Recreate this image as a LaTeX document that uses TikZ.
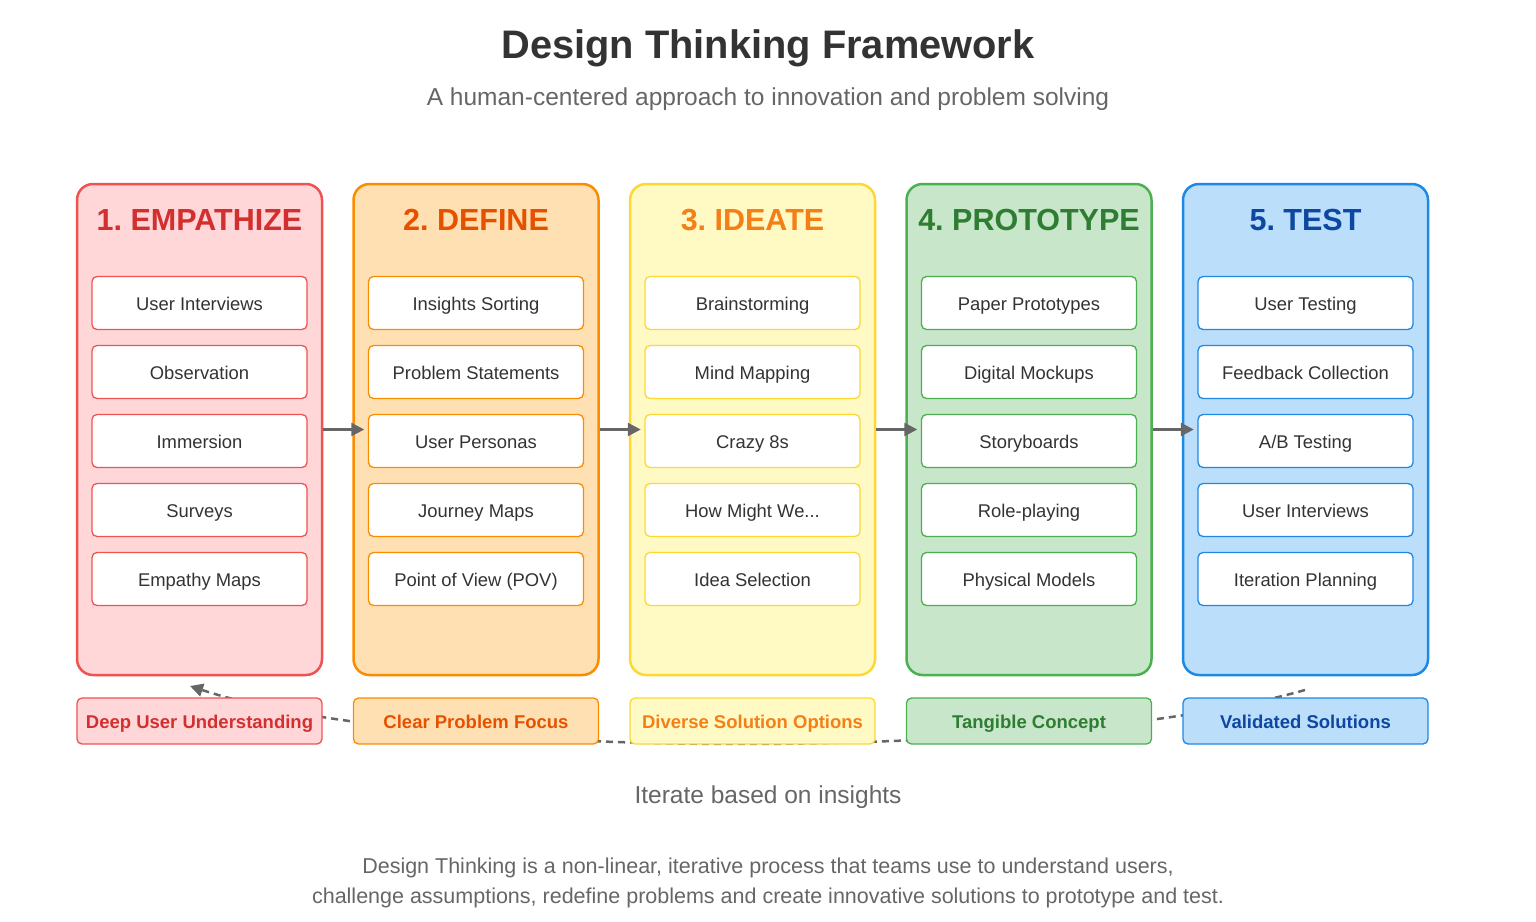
\documentclass[tikz,border=0pt]{standalone}
\usepackage{fontspec}
\setmainfont{Liberation Sans}
\usetikzlibrary{arrows.meta}
\usetikzlibrary{calc}
\frenchspacing
\definecolor{emfill}{HTML}{FFD7D9}\definecolor{emline}{HTML}{EF5350}\definecolor{emtext}{HTML}{D32F2F}
\definecolor{defill}{HTML}{FFE0B2}\definecolor{deline}{HTML}{FB8C00}\definecolor{detext}{HTML}{E65100}
\definecolor{idfill}{HTML}{FFF9C4}\definecolor{idline}{HTML}{FDD835}\definecolor{idtext}{HTML}{F57F17}
\definecolor{prfill}{HTML}{C8E6C9}\definecolor{prline}{HTML}{4CAF50}\definecolor{prtext}{HTML}{2E7D32}
\definecolor{tefill}{HTML}{BBDEFB}\definecolor{teline}{HTML}{1E88E5}\definecolor{tetext}{HTML}{0D47A1}
\definecolor{greytext}{HTML}{666666}
\tikzset{
  >={Triangle[length=13pt,width=13pt]},
  phase/.style={draw, line width=2.5pt, rounded corners=16pt,
    minimum width=245pt, minimum height=491pt},
  item/.style={draw, fill=white, line width=1.3pt, rounded corners=5pt,
    minimum width=215pt, minimum height=53pt, text height=15.5pt, text depth=1.5pt,
    font=\fontsize{18.4}{22}\selectfont, text=black!80},
  outcome/.style={draw, line width=1.3pt, rounded corners=5pt,
    minimum width=245pt, minimum height=46pt, text height=15.5pt, text depth=1.5pt,
    font=\fontsize{18.5}{22}\selectfont\bfseries},
  flow/.style={->, draw=black!60, line width=2.5pt},
  loopback/.style={->, draw=black!60, line width=2.5pt, dash pattern=on 7pt off 5pt}
}
\begin{document}
\begin{tikzpicture}[x=1pt, y=-1pt]
    \useasboundingbox (0,0) rectangle (1536,921);

    \node (title) at (768,48) {\fontsize{39.8}{46}\selectfont\bfseries\color{black!80}Design Thinking Framework};
    \node (subtitle) at (768,99) {\fontsize{24.5}{28}\selectfont\color{greytext}A human-centered approach to innovation and problem solving};

    % iterate loop, behind the outcome boxes
    \coordinate (loopstart) at (1305,690);
    \coordinate (loopend)   at (190,686);
    \draw [loopback] (loopstart) .. controls (1050,762) and (420,762) .. (loopend);

    \foreach \i/\c/\name/\a/\b/\cc/\d/\e/\res in {
        1/em/{1. EMPATHIZE}/User Interviews/Observation/Immersion/Surveys/Empathy Maps/Deep User Understanding,
        2/de/{2. DEFINE}/Insights Sorting/Problem Statements/User Personas/Journey Maps/Point of View (POV)/Clear Problem Focus,
        3/id/{3. IDEATE}/Brainstorming/Mind Mapping/Crazy 8s/{How Might We...}/Idea Selection/Diverse Solution Options,
        4/pr/{4. PROTOTYPE}/Paper Prototypes/Digital Mockups/Storyboards/Role-playing/Physical Models/Tangible Concept,
        5/te/{5. TEST}/User Testing/Feedback Collection/{A/B Testing}/User Interviews/Iteration Planning/Validated Solutions}
    {
      \pgfmathsetmacro{\cx}{199.5+276.5*(\i-1)}
      \node [phase, draw=\c line, fill=\c fill] (phase\i) at (\cx,429.5) {};
      \node [text=\c text, font=\fontsize{30.5}{36}\selectfont\bfseries] (head\i) at (\cx,220) {\name};
      \node [item, draw=\c line] (item\i a) at (\cx,303) {\a};
      \node [item, draw=\c line] (item\i b) at (\cx,372) {\b};
      \node [item, draw=\c line] (item\i c) at (\cx,441) {\cc};
      \node [item, draw=\c line] (item\i d) at (\cx,510) {\d};
      \node [item, draw=\c line] (item\i e) at (\cx,579) {\e};
      \node [outcome, draw=\c line, fill=\c fill, text=\c text] (result\i) at (\cx,721) {\res};
    }

    \foreach \i [evaluate=\i as \j using int(\i+1)] in {1,2,3,4}
      \draw [flow] (phase\i.east) -- ([xshift=12pt]phase\j.west);

    \node (iterate) at (768,797) {\fontsize{24.5}{28}\selectfont\color{greytext}Iterate based on insights};
    \node [align=center, font=\fontsize{21.5}{30}\selectfont, text=greytext] (note) at (768,883)
      {Design Thinking is a non-linear, iterative process that teams use to understand users,\\
       challenge assumptions, redefine problems and create innovative solutions to prototype and test.};
\end{tikzpicture}
\end{document}
